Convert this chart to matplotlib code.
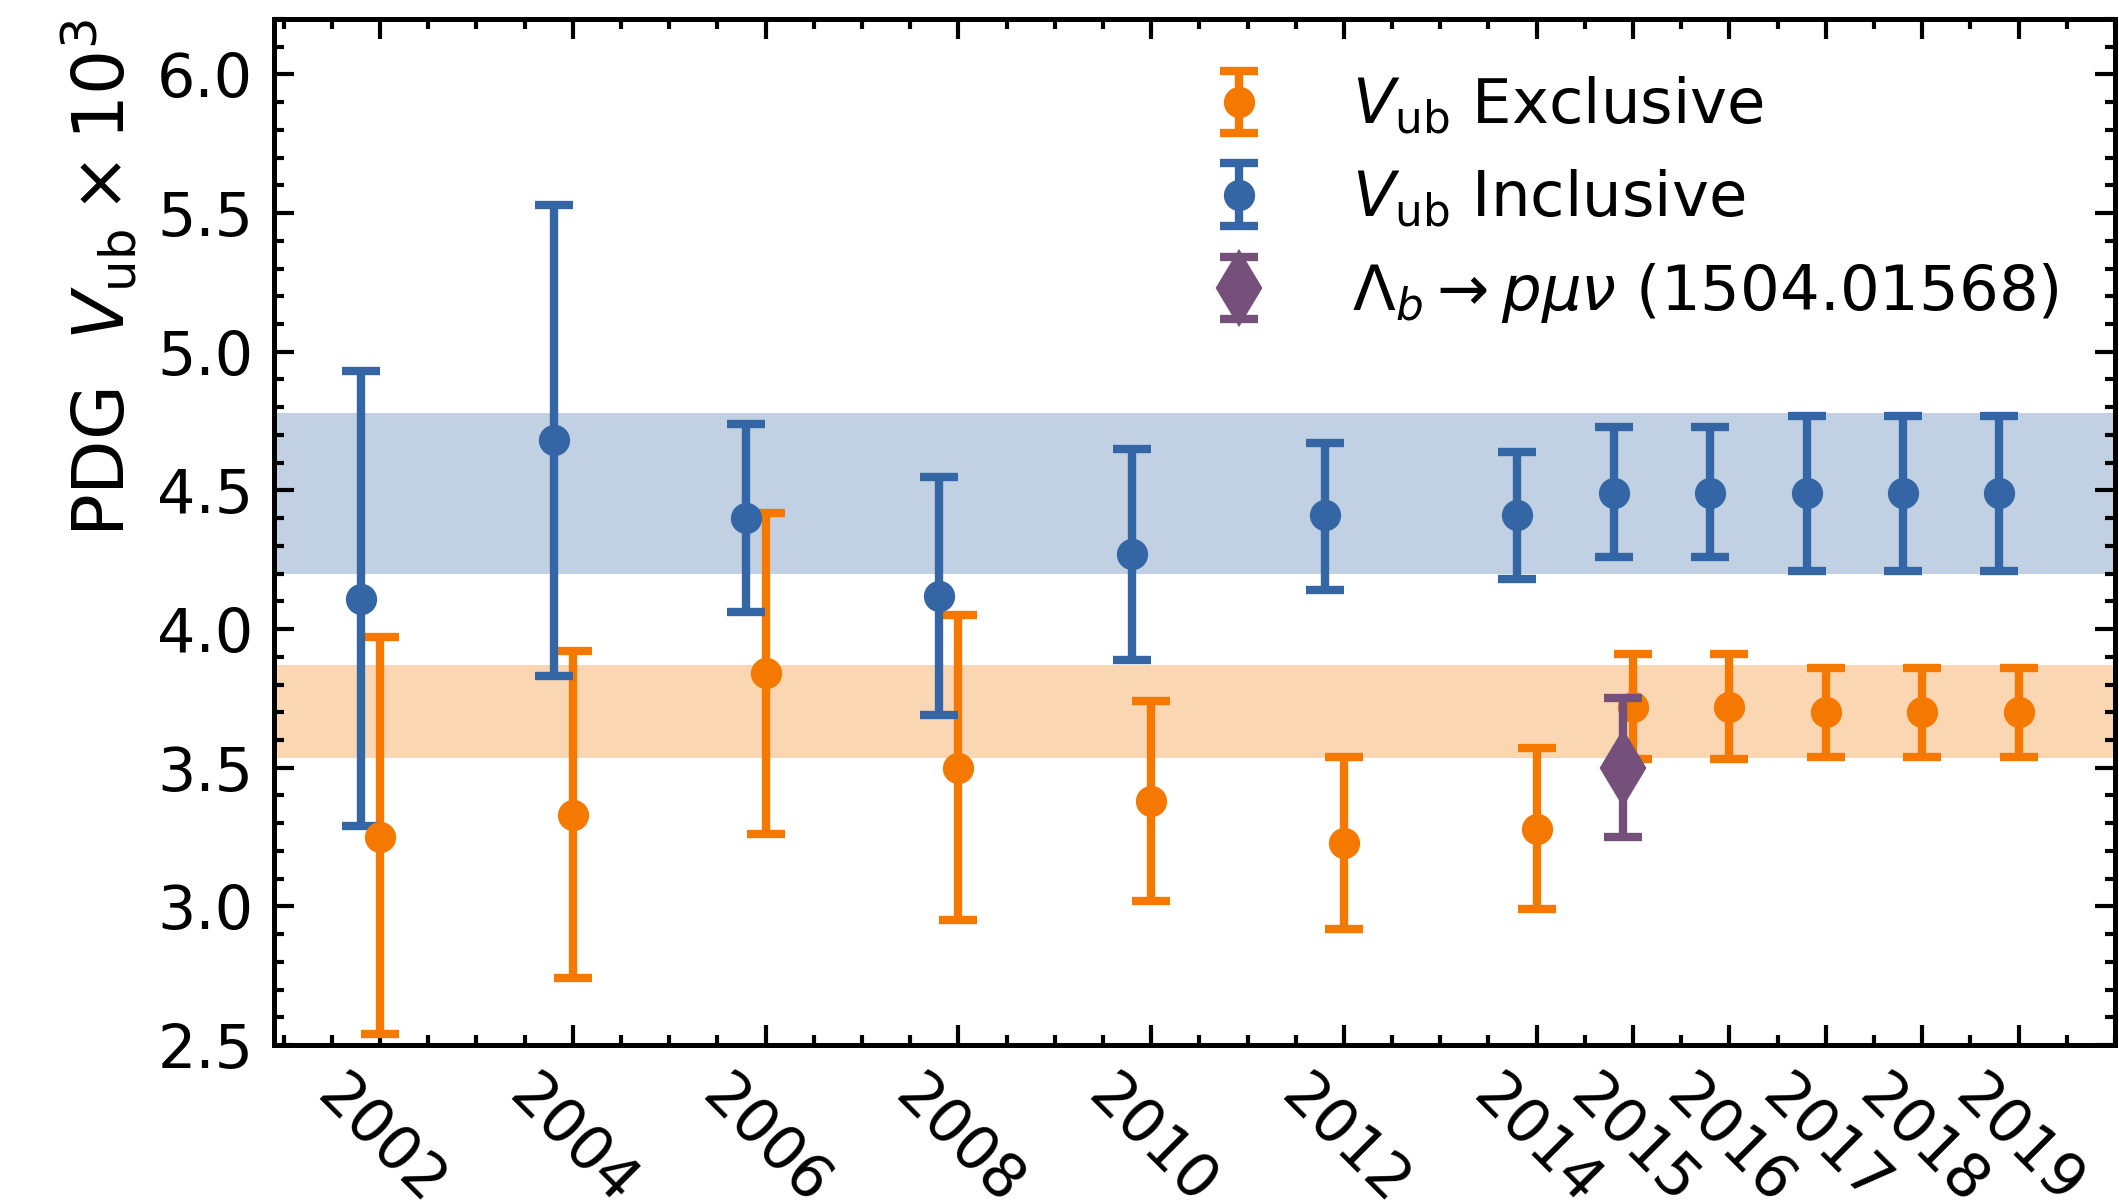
import numpy as np
import matplotlib
matplotlib.use("Agg")
import matplotlib.pyplot as plt
from matplotlib.ticker import MultipleLocator

# ---- data ----
years = [2002, 2004, 2006, 2008, 2010, 2012, 2014, 2015, 2016, 2017, 2018, 2019]
tick_labels = [str(y) for y in years]

excl = [3.25, 3.33, 3.84, 3.50, 3.38, 3.23, 3.28, 3.72, 3.72, 3.70, 3.70, 3.70]
excl_hi = [3.97, 3.92, 4.42, 4.05, 3.74, 3.54, 3.57, 3.91, 3.91, 3.86, 3.86, 3.86]
excl_lo = [2.54, 2.74, 3.26, 2.95, 3.02, 2.92, 2.99, 3.53, 3.53, 3.54, 3.54, 3.54]

incl = [4.11, 4.68, 4.40, 4.12, 4.27, 4.41, 4.41, 4.49, 4.49, 4.49, 4.49, 4.49]
incl_hi = [4.93, 5.53, 4.74, 4.55, 4.65, 4.67, 4.64, 4.73, 4.73, 4.77, 4.77, 4.77]
incl_lo = [3.29, 3.83, 4.06, 3.69, 3.89, 4.14, 4.18, 4.26, 4.26, 4.21, 4.21, 4.21]

lhcb_year = [2015]
lhcb_val = [3.50]
lhcb_hi = [3.75]
lhcb_lo = [3.25]

incl_band = (4.20, 4.78)
excl_band = (3.535, 3.87)

# ---- style ----
c_excl = "#f57900"
c_incl = "#3465a4"
c_lhcb = "#75507b"

plt.rcParams["font.family"] = ["DejaVu Sans"]
plt.rcParams["mathtext.fontset"] = "dejavusans"

fig = plt.figure(figsize=(2119 / 300, 1204 / 300), dpi=300)
ax = fig.add_axes([274 / 2119, 1 - 1045 / 1204, (2115 - 274) / 2119, (1045 - 19) / 1204])

ax.axhspan(*incl_band, color=c_incl, alpha=0.3, lw=0, zorder=0)
ax.axhspan(*excl_band, color=c_excl, alpha=0.3, lw=0, zorder=0)

def yerr(v, lo, hi):
    v = np.asarray(v); lo = np.asarray(lo); hi = np.asarray(hi)
    return np.vstack([v - lo, hi - v])

ekw = dict(fmt="o", markersize=6.5, elinewidth=2.0, capsize=4.5, capthick=2.0)
yrs = np.asarray(years, dtype=float)
ax.errorbar(yrs, excl, yerr=yerr(excl, excl_lo, excl_hi), color=c_excl,
            label=r"$V_{\mathrm{ub}}$ Exclusive", zorder=3, **ekw)
ax.errorbar(yrs - 0.2, incl, yerr=yerr(incl, incl_lo, incl_hi), color=c_incl,
            label=r"$V_{\mathrm{ub}}$ Inclusive", zorder=3, **ekw)
ax.errorbar(np.asarray(lhcb_year, dtype=float) - 0.1, lhcb_val,
            yerr=yerr(lhcb_val, lhcb_lo, lhcb_hi), color=c_lhcb, fmt="d",
            markersize=12, elinewidth=2.0, capsize=4.5, capthick=2.0,
            label=r"$\Lambda_b \to p\mu\nu$ (1504.01568)", zorder=4)

ax.set_xlim(2000.9, 2020.0)
ax.set_ylim(2.5, 6.2)
ax.set_xticks(years)
ax.set_xticklabels(tick_labels, rotation=-45, ha="center")
ax.xaxis.set_minor_locator(MultipleLocator(0.5))
ax.yaxis.set_major_locator(MultipleLocator(0.5))
ax.yaxis.set_minor_locator(MultipleLocator(0.1))
ax.yaxis.set_major_formatter(matplotlib.ticker.FormatStrFormatter("%.1f"))

ax.tick_params(which="both", direction="in", top=True, right=True, labelsize=14.5)
ax.tick_params(which="major", length=4.8, width=1.0, pad=5)
ax.tick_params(which="minor", length=2.4, width=1.0)
for s in ax.spines.values():
    s.set_linewidth(1.2)

ax.set_ylabel(r"PDG  $V_{\mathrm{ub}} \times 10^3$", fontsize=17, loc="top")

ax.legend(loc="upper right", frameon=False, fontsize=15)

fig.savefig("out.png", dpi=300)
